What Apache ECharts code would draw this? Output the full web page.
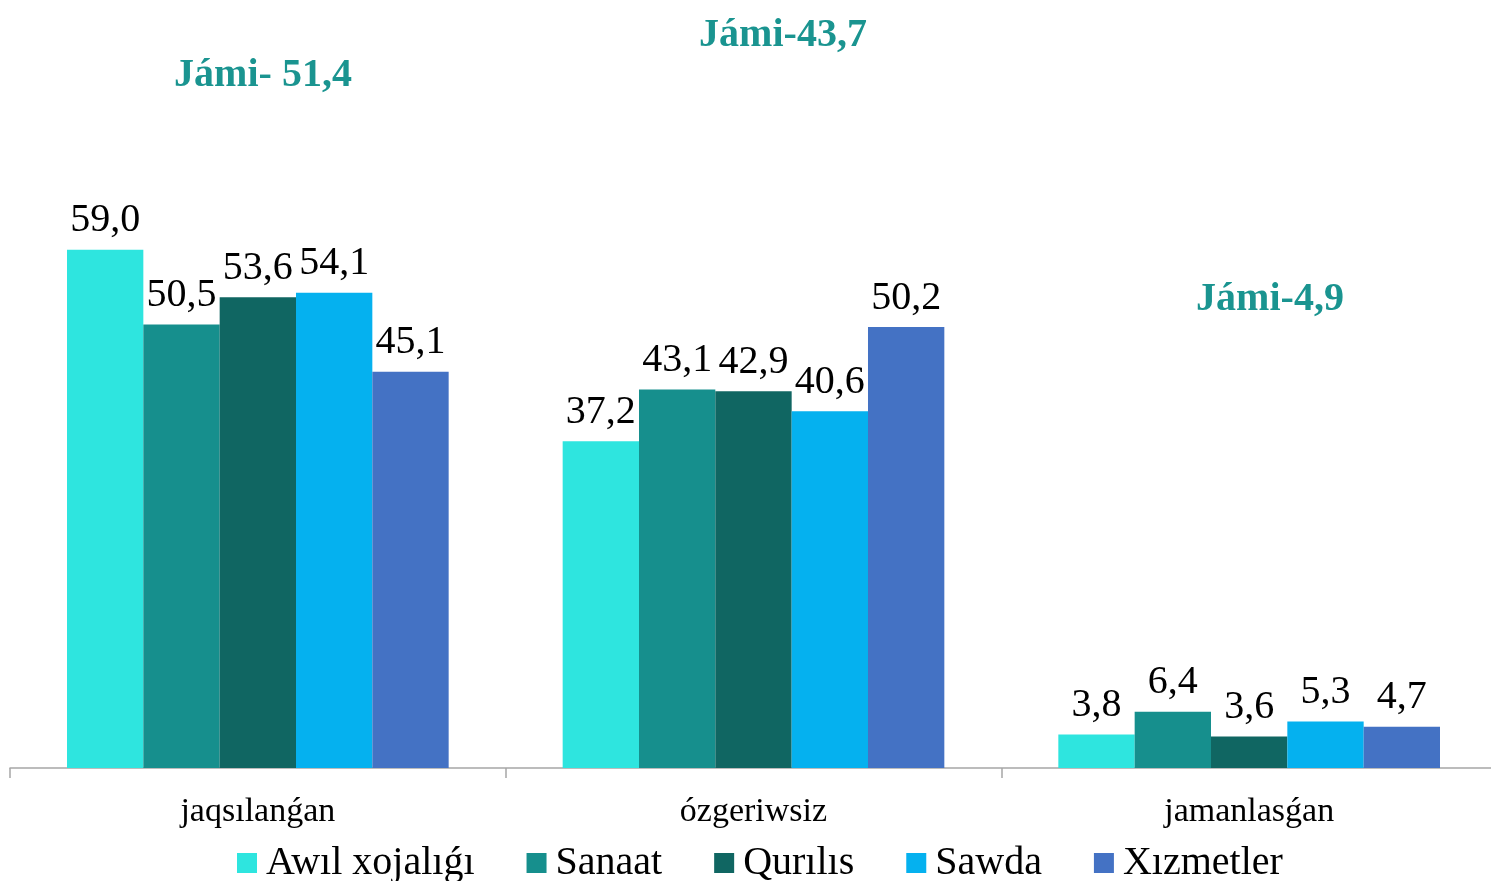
<!DOCTYPE html>
<html>
<head>
<meta charset="utf-8">
<script src="https://cdn.jsdelivr.net/npm/echarts@6/dist/echarts.min.js"></script>
<style>
  html, body { margin: 0; padding: 0; background: #ffffff; overflow: hidden; }
  #chart { width: 1497px; height: 881px; }
</style>
</head>
<body>
<div id="chart"></div>
<script>
// Categories along the x axis
const categories = ['jaqsılanǵan', 'ózgeriwsiz', 'jamanlasǵan'];

// Series (sectors) and their values per category
const seriesNames = ['Awıl xojalıǵı', 'Sanaat', 'Qurılıs', 'Sawda', 'Xızmetler'];
const awilXojaligi = [59.0, 37.2, 3.8];
const sanaat = [50.5, 43.1, 6.4];
const qurilis = [53.6, 42.9, 3.6];
const sawda = [54.1, 40.6, 5.3];
const xizmetler = [45.1, 50.2, 4.7];

// Totals shown above each group
const totalLabels = ['Jámi- 51,4', 'Jámi-43,7', 'Jámi-4,9'];

const colors = ['#2ee5df', '#168f8d', '#106662', '#05b1ef', '#4472c4'];
const seriesValues = [awilXojaligi, sanaat, qurilis, sawda, xizmetler];

const serif = '"Liberation Serif", "Times New Roman", serif';

const chart = echarts.init(document.getElementById('chart'));

const fmt = v => v.toFixed(1).replace('.', ',');

const totalStyle = text => ({
  text: text, fontFamily: serif, fontSize: 40, fontWeight: 'bold',
  fill: '#1a9490', textAlign: 'center', textVerticalAlign: 'middle'
});

chart.setOption({
  animation: false,
  color: colors,
  // the plot runs slightly past the right edge of the visible page
  grid: { left: 10, right: 0, top: 197, bottom: 113, containLabel: false },
  xAxis: {
    type: 'category',
    data: categories,
    axisLine: { lineStyle: { color: '#a6a6a6', width: 1.5 } },
    axisTick: { show: true, length: 10, lineStyle: { color: '#a6a6a6', width: 1.5 } },
    axisLabel: { fontFamily: serif, fontSize: 34, color: '#000', margin: 27 }
  },
  yAxis: {
    type: 'value',
    min: 0,
    max: 65,
    show: false,
    splitLine: { show: false }
  },
  legend: {
    top: 838,
    left: 232,
    itemWidth: 20,
    itemHeight: 20,
    itemGap: 52,
    icon: 'rect',
    textStyle: { fontFamily: serif, fontSize: 40, color: '#000', padding: [0, 0, 0, 4] },
    data: seriesNames
  },
  series: seriesNames.map((name, i) => ({
    name: name,
    type: 'bar',
    data: seriesValues[i],
    barGap: '0%',
    barCategoryGap: '23%',
    itemStyle: { color: colors[i] },
    label: {
      show: true,
      position: 'top',
      distance: 9,
      fontFamily: serif,
      fontSize: 40,
      color: '#000',
      formatter: p => fmt(p.value)
    }
  })),
  graphic: [
    { type: 'text', x: 263, y: 76, style: totalStyle(totalLabels[0]) },
    { type: 'text', x: 783, y: 36, style: totalStyle(totalLabels[1]) },
    { type: 'text', x: 1270, y: 300, style: totalStyle(totalLabels[2]) }
  ]
});
</script>
</body>
</html>
